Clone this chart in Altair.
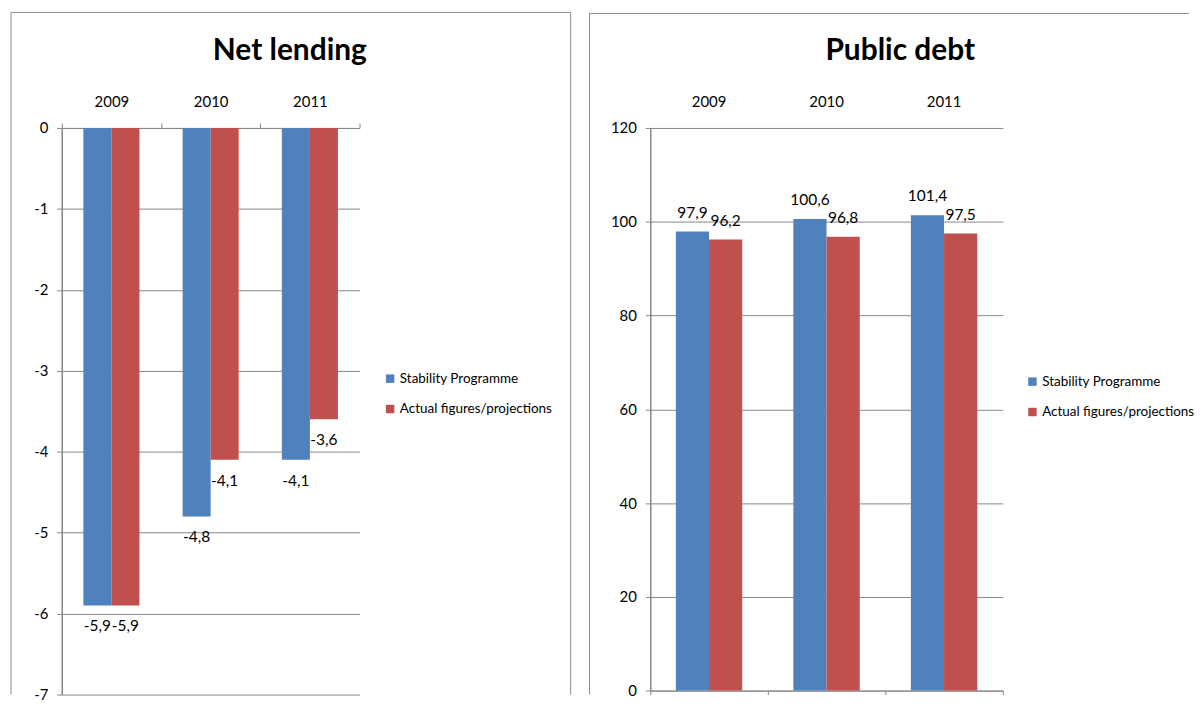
import altair as alt
import pandas as pd

# ---------------- data ----------------
years = ["2009", "2010", "2011"]
series = ["Stability Programme", "Actual figures/projections"]
net_sp = [-5.9, -4.8, -4.1]
net_act = [-5.9, -4.1, -3.6]
debt_sp = [97.9, 100.6, 101.4]
debt_act = [96.2, 96.8, 97.5]
colors = ["#4F81BD", "#C0504D"]
net_ticks = [0, -1, -2, -3, -4, -5, -6, -7]
debt_ticks = [0, 20, 40, 60, 80, 100, 120]
titles = ["Net lending", "Public debt"]

FONT = "Lato"
GRAY = "#868686"
BORDER = "#8c8c8c"


def frame(sp, act):
    rows = []
    for y, a, b in zip(years, sp, act):
        for s, v in zip(series, (a, b)):
            rows.append({"year": y, "series": s, "value": v,
                         "label": f"{v:.1f}".replace(".", ",")})
    return pd.DataFrame(rows)


net_df = frame(net_sp, net_act)
debt_df = frame(debt_sp, debt_act)
one = pd.DataFrame({"k": [0]})


def rule(x, y, x2, y2):
    return alt.Chart(one).mark_rule(color=BORDER, strokeWidth=1).encode(
        x=alt.value(x), y=alt.value(y), x2=alt.value(x2), y2=alt.value(y2))


def title_mark(text, x, y):
    return alt.Chart(pd.DataFrame({"t": [text]})).mark_text(
        font=FONT, fontSize=30, fontWeight="bold", align="center",
        baseline="alphabetic", color="black").encode(
        x=alt.value(x), y=alt.value(y), text="t:N")


def xoff():
    return alt.XOffset("series:N", sort=series,
                       scale=alt.Scale(paddingInner=0, paddingOuter=0.77))


def color(lx, ly):
    return alt.Color("series:N", sort=series,
                     scale=alt.Scale(domain=series, range=colors),
                     legend=alt.Legend(title=None, orient="none", legendX=lx, legendY=ly,
                                       symbolType="square", symbolSize=72,
                                       symbolStrokeWidth=0, labelFont=FONT,
                                       labelFontSize=13.5, labelColor="black",
                                       labelOffset=3, rowPadding=15.5, padding=0))


def yaxis(vals):
    return alt.Axis(values=vals, labelExpr="datum.value + ''", labelFont=FONT,
                    labelFontSize=15, labelColor="black", labelPadding=9,
                    tickSize=5, tickColor=GRAY, domainColor=GRAY, domainWidth=1.5,
                    gridColor=GRAY, grid=True, title=None)


# ---------------- left panel: Net lending ----------------
LW, LH = 299, 569
x_left = alt.X("year:N", sort=years, title=None,
               scale=alt.Scale(paddingInner=0, paddingOuter=0),
               axis=alt.Axis(orient="top", labelAngle=0, labelFont=FONT,
                             labelFontSize=15, labelColor="black", labelPadding=14,
                             tickSize=5, tickColor=GRAY, domainColor=GRAY,
                             tickBand="extent", grid=False))
y_left = alt.Y("value:Q", title=None,
               scale=alt.Scale(domain=[-7.0, 0], nice=False, zero=False),
               axis=yaxis(net_ticks))

left_bars = alt.Chart(net_df).mark_bar().encode(
    x=x_left, xOffset=xoff(), y=y_left, color=color(323, 245))
left_text = alt.Chart(net_df).mark_text(
    baseline="middle", dy=21, font=FONT, fontSize=15.5, color="black").encode(
    x=x_left, xOffset=xoff(), y=y_left, text="label:N")

left = alt.layer(
    rule(-51, -116, -51, 569), rule(511, -116, 511, 569), rule(-51, -116, 511, -116),
    title_mark(titles[0], 229, -68),
    left_bars, left_text,
).properties(width=LW, height=LH)

# ---------------- right panel: Public debt ----------------
RW, RH = 354, 565
x_right_top = alt.X("year:N", sort=years, title=None,
                    scale=alt.Scale(paddingInner=0, paddingOuter=0),
                    axis=alt.Axis(orient="top", labelAngle=0, labelFont=FONT,
                                  labelFontSize=15, labelColor="black",
                                  labelPadding=19, ticks=False, domain=False,
                                  grid=False))
x_right_bottom = alt.X("year:N", sort=years, title=None,
                       scale=alt.Scale(paddingInner=0, paddingOuter=0),
                       axis=alt.Axis(orient="bottom", labels=False, tickSize=4,
                                     tickColor=GRAY, domainColor=GRAY,
                                     tickBand="extent", grid=False))
y_right = alt.Y("value:Q", title=None,
                scale=alt.Scale(domain=[0, 120], nice=False),
                axis=yaxis(debt_ticks))

right_bars = alt.Chart(debt_df).mark_bar().encode(
    x=x_right_top, xOffset=xoff(), y=y_right, color=color(377, 248))
right_text = alt.Chart(debt_df).mark_text(
    baseline="middle", dy=-19, font=FONT, fontSize=15.5, color="black").encode(
    x=x_right_bottom, xOffset=xoff(), y=y_right, text="label:N")

right = alt.layer(
    rule(-61, -115, -61, 569), rule(-61, -115, 541, -115),
    title_mark(titles[1], 251, -68),
    right_bars, right_text,
).resolve_axis(x="independent").properties(width=RW, height=RH)

chart = alt.hconcat(left, right, spacing=17).resolve_scale(
    color="independent", x="independent", y="independent", xOffset="independent"
).configure_view(strokeWidth=0).properties(
    padding={"left": 2, "top": 2, "right": 0, "bottom": 0},
    background="white")

chart.save("out.html", embed_options={"renderer": "svg", "actions": False})
